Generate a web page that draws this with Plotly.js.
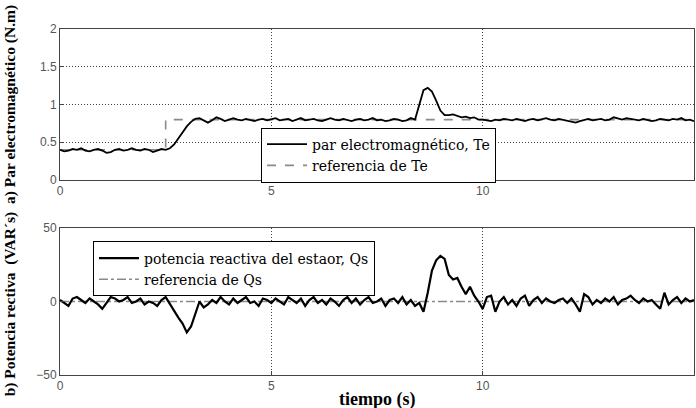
<!DOCTYPE html>
<html><head><meta charset="utf-8">
<script src="https://cdn.plot.ly/plotly-3.0.1.min.js"></script>
<style>body{margin:0;background:#fff}#chart{width:696px;height:408px}</style>
</head><body><div id="chart"></div>
<script>
// Time sampling: t = 0, 0.1, ..., 15 s
var T0 = 0, DT = 0.1;
var teVals = [
0.40,0.38,0.39,0.41,0.40,0.42,0.39,0.38,0.40,0.41,
0.39,0.36,0.37,0.40,0.41,0.39,0.40,0.42,0.40,0.39,
0.41,0.40,0.37,0.39,0.41,0.40,0.42,0.47,0.55,0.63,
0.71,0.77,0.81,0.82,0.79,0.76,0.79,0.83,0.81,0.78,
0.80,0.82,0.80,0.79,0.81,0.80,0.78,0.80,0.81,0.79,
0.80,0.82,0.79,0.80,0.81,0.78,0.80,0.82,0.79,0.80,
0.81,0.79,0.78,0.80,0.82,0.80,0.79,0.81,0.80,0.78,
0.80,0.81,0.79,0.80,0.82,0.79,0.80,0.78,0.79,0.81,
0.80,0.78,0.79,0.82,0.80,0.98,1.19,1.22,1.17,1.05,
0.92,0.86,0.86,0.87,0.85,0.83,0.84,0.82,0.83,0.80,
0.80,0.79,0.78,0.80,0.79,0.81,0.80,0.79,0.81,0.80,
0.78,0.80,0.81,0.79,0.80,0.82,0.80,0.79,0.81,0.80,
0.79,0.77,0.76,0.78,0.80,0.81,0.79,0.80,0.81,0.79,
0.80,0.83,0.81,0.80,0.82,0.81,0.80,0.79,0.81,0.80,
0.78,0.79,0.81,0.80,0.79,0.81,0.80,0.82,0.79,0.80,
0.78];
var teRefT = [0, 2.5, 2.5, 15];
var teRefV = [0.4, 0.4, 0.8, 0.8];
var qsVals = [
1,-1,-3,2,3,1,-1,2,0,-2,
-5,-1,3,2,0,1,3,-1,0,2,
-2,0,-1,-3,1,3,-2,-6,-11,-15,
-21,-17,-8,0,-4,-2,1,-1,3,0,
-2,2,-1,1,3,-1,0,-3,2,1,
-1,2,0,-2,3,1,-1,2,-3,1,
3,-1,1,-2,2,0,-3,1,3,-1,
2,-2,1,3,-1,0,2,-3,1,2,
-1,3,-2,1,-3,-1,-7,6,21,28,
31,29,18,15,16,10,5,10,4,0,
-5,3,4,-7,0,3,-2,1,-3,2,
4,-3,1,3,-1,2,0,-1,1,2,
-1,2,-2,-7,5,3,-2,1,-1,2,
0,3,-2,1,2,4,1,-1,2,0,
1,-2,-5,6,-2,1,3,-1,2,0,
1];
var qsRefT = [0, 15];
var qsRefV = [0, 0];
var xTicks = [0, 5, 10, 15];
var teTicks = [0, 0.5, 1, 1.5, 2];
var qsTicks = [-50, 0, 50];
var names = ['par electromagnético, Te', 'referencia de Te',
             'potencia reactiva del estaor, Qs', 'referencia de Qs'];
var yTitles = ['a) Par electromagnético (N.m)', 'b) Potencia rectiva\u00a0 (VAR´s)'];
var xTitle = 'tiempo (s)';

var traces = [
 {x: teRefT, y: teRefV, xaxis:'x', yaxis:'y', mode:'lines', name:names[1], legend:'legend',
  line:{color:'#8a8a8a', width:1.6, dash:'dash'}, legendrank:2},
 {x0:T0, dx:DT, y: teVals, xaxis:'x', yaxis:'y', mode:'lines', name:names[0], legend:'legend',
  line:{color:'#000', width:1.8}, legendrank:1},
 {x: qsRefT, y: qsRefV, xaxis:'x2', yaxis:'y2', mode:'lines', name:names[3], legend:'legend2',
  line:{color:'#8a8a8a', width:1.6, dash:'dashdot'}, legendrank:2},
 {x0:T0, dx:DT, y: qsVals, xaxis:'x2', yaxis:'y2', mode:'lines', name:names[2], legend:'legend2',
  line:{color:'#000', width:2.2}, legendrank:1}
];

var tickFont = {family:'Liberation Sans, Arial, sans-serif', size:12, color:'#555'};
var axBase = {showline:true, mirror:true, linecolor:'#444', linewidth:1, ticks:'inside', ticklen:4,
  tickcolor:'#444', tickfont:tickFont, zeroline:false, gridcolor:'#444', griddash:'1px,2px', gridwidth:1};
function ax(extra){ return Object.assign({}, axBase, extra); }
var yTitleFont = {family:'Liberation Serif, Times New Roman, serif', size:15.5, color:'#000'};
var xTitleFont = {family:'Liberation Serif, Times New Roman, serif', size:18, color:'#000'};
var legFont = {family:'DejaVu Serif, serif', size:14, color:'#000'};

var layout = {
  width:696, height:408, margin:{l:60, r:2, t:29, b:33},
  paper_bgcolor:'#fff', plot_bgcolor:'#fff', showlegend:true,
  xaxis: ax({domain:[0,1], range:[0,15], anchor:'y', tickvals:xTicks, showgrid:true}),
  yaxis: ax({domain:[0.5636,1], range:[0,2], anchor:'x', tickvals:teTicks, showgrid:true}),
  xaxis2: ax({domain:[0,1], range:[0,15], anchor:'y2', tickvals:xTicks, showgrid:true}),
  yaxis2: ax({domain:[0,0.4249], range:[-50,50], anchor:'x2', tickvals:qsTicks, showgrid:false}),
  legend: {x:0.317, y:0.715, xanchor:'left', yanchor:'top', bgcolor:'#fff', bordercolor:'#000',
    borderwidth:1, font:legFont, itemwidth:40, traceorder:'normal'},
  legend2: {x:0.052, y:0.386, xanchor:'left', yanchor:'top', bgcolor:'#fff', bordercolor:'#000',
    borderwidth:1, font:legFont, itemwidth:40, traceorder:'normal'},
  annotations: [
    {text:'<b>'+yTitles[0]+'</b>', xref:'paper', yref:'paper', x:-0.079, y:0.783, textangle:-90,
     showarrow:false, font:yTitleFont, xanchor:'center', yanchor:'middle'},
    {text:'<b>'+yTitles[1]+'</b>', xref:'paper', yref:'paper', x:-0.079, y:0.207, textangle:-90,
     showarrow:false, font:yTitleFont, xanchor:'center', yanchor:'middle'},
    {text:'<b>'+xTitle+'</b>', xref:'paper', yref:'paper', x:0.5, y:-0.072,
     showarrow:false, font:xTitleFont, xanchor:'center', yanchor:'middle'}
  ]
};
Plotly.newPlot('chart', traces, layout, {displayModeBar:false, staticPlot:true});
</script></body></html>
